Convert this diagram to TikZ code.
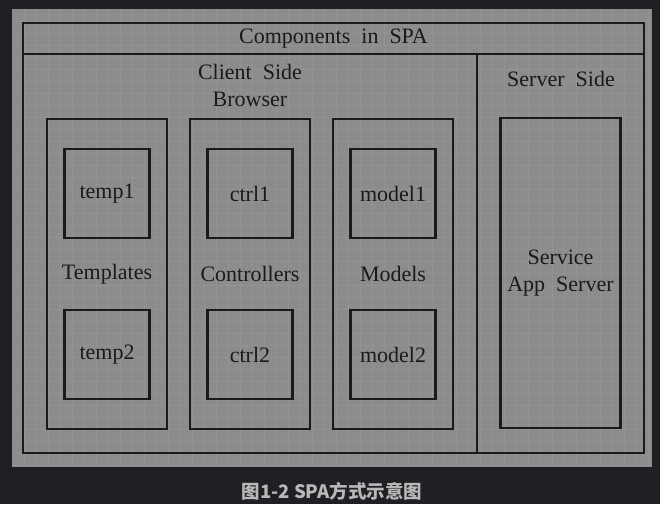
\documentclass[tikz,border=0pt]{standalone}
\usepackage{fontspec}
\setmainfont{Liberation Serif}[WordSpace=2]
\newfontfamily\cjk{Noto Sans CJK SC}
\usetikzlibrary{positioning}

\definecolor{pagebg}{HTML}{1F2023}
\definecolor{panelgray}{HTML}{8C8C8C}
\definecolor{gridgray}{HTML}{939393}
\definecolor{inkdark}{HTML}{1A1A1A}
\definecolor{captiongray}{HTML}{B8B8B8}

\tikzset{
  box/.style={draw=inkdark, line width=2.2pt, outer sep=0pt, inner sep=0pt, text=inkdark, align=center},
  column/.style={box, minimum width=120pt, minimum height=310pt},
  part/.style={box, minimum width=85pt, minimum height=89pt},
  heading/.style={text=inkdark, align=center, inner sep=0pt},
  gridline/.style={gridgray, line width=0.5pt}
}

\begin{document}
\begin{tikzpicture}[x=1pt, y=-1pt, font=\fontsize{22}{27}\selectfont]
\useasboundingbox (0,0) rectangle (660,504);

% Background and grid paper
\fill[pagebg] (0,0) rectangle (660,504);
\fill[panelgray] (12,9) rectangle (652,467);
\foreach \gx in {24,36,...,648} \draw[gridline] (\gx,9) -- (\gx,467);
\foreach \gy in {21,33,...,465} \draw[gridline] (12,\gy) -- (652,\gy);

% Frame
\node[box, minimum width=621pt, minimum height=430pt] (frame) at (333.5,238) {};
\node[box, minimum width=621pt, minimum height=31pt, anchor=north] (header) at (frame.north) {};
\node[heading] (title) at (333.5,39) {Components in SPA};
\node[box, minimum width=167pt, minimum height=399pt, anchor=south east] (serverside) at (frame.south east) {};

% Side titles
\node[heading] (client) at (250,85) {Client Side\\Browser};
\node[heading] (server) at (561,79) {Server Side};

% Client Side Columns
\node[column] (templates) at (107,274) {Templates};
\node[column, right=23pt of templates] (controllers) {Controllers};
\node[column, right=23pt of controllers] (models) {Models};

% Parts
\node[part, below=30pt of templates.north] (temp1) {temp1};
\node[part, above=30pt of templates.south] (temp2) {temp2};
\node[part, below=30pt of controllers.north] (ctrl1) {ctrl1};
\node[part, above=30pt of controllers.south] (ctrl2) {ctrl2};
\node[part, below=30pt of models.north] (model1) {model1};
\node[part, above=30pt of models.south] (model2) {model2};

% Server Side Column
\node[column] (appserver) at (560.5,273) {Service\\App Server};

% Caption
\node[text=captiongray, font=\cjk\bfseries\fontsize{18.5}{21}\selectfont] (caption) at (332,491) {图1-2 SPA方式示意图};

\end{tikzpicture}
\end{document}
